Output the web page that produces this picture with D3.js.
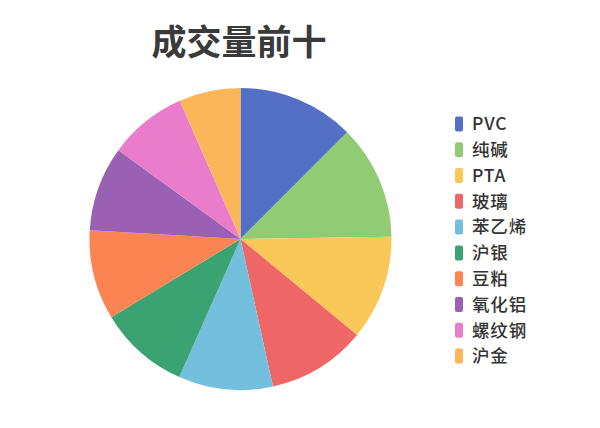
<!DOCTYPE html>
<html>
<head>
<meta charset="utf-8">
<script src="https://cdn.jsdelivr.net/npm/d3@7"></script>
<style>
  html, body { margin: 0; padding: 0; background: #fff; }
  svg { display: block; font-family: "Noto Sans CJK SC", "Noto Sans", sans-serif; }
</style>
</head>
<body>
<div id="chart"></div>
<script>
const categories = ["PVC", "纯碱", "PTA", "玻璃", "苯乙烯", "沪银", "豆粕", "氧化铝", "螺纹钢", "沪金"];
const shares = [12.5, 12.3, 11.2, 10.6, 10.1, 9.7, 9.6, 9.1, 8.4, 6.6];
const colors = ["#5470c6", "#91cc75", "#fac858", "#ee6666", "#73c0de",
                "#3ba272", "#fc8452", "#9a60b4", "#ea7ccc", "#fcb65a"];
const title = "成交量前十";

const width = 600;
const height = 428;
const center = [240.5, 239];
const radius = 151;

const svg = d3.select("#chart")
  .append("svg")
  .attr("width", width)
  .attr("height", height);

svg.append("text")
  .attr("x", 239)
  .attr("y", 55)
  .attr("text-anchor", "middle")
  .attr("font-size", 35)
  .attr("font-weight", "bold")
  .attr("fill", "#3a3a3a")
  .text(title);

const rows = categories.map((name, i) => ({ name, value: shares[i] }));

const color = d3.scaleOrdinal()
  .domain(categories)
  .range(colors);

const pie = d3.pie()
  .sort(null)
  .value(d => d.value);

const arc = d3.arc()
  .innerRadius(0)
  .outerRadius(radius);

svg.append("g")
  .attr("transform", `translate(${center[0]},${center[1]})`)
  .selectAll("path")
  .data(pie(rows))
  .join("path")
  .attr("d", arc)
  .attr("fill", d => color(d.data.name));

// vertical legend on the right
const legendY = d3.scalePoint()
  .domain(categories)
  .range([124, 356]);

const legend = svg.append("g")
  .selectAll("g")
  .data(categories)
  .join("g")
  .attr("transform", d => `translate(455,${legendY(d)})`);

legend.append("rect")
  .attr("x", 0)
  .attr("y", -7.5)
  .attr("width", 8)
  .attr("height", 15)
  .attr("rx", 2)
  .attr("fill", d => color(d));

legend.append("text")
  .attr("x", 17)
  .attr("y", 0)
  .attr("dy", "0.36em")
  .attr("font-size", 17.5)
  .attr("font-weight", 500)
  .attr("fill", "#333")
  .style("letter-spacing", "0.05em")
  .text(d => d);
</script>
</body>
</html>
